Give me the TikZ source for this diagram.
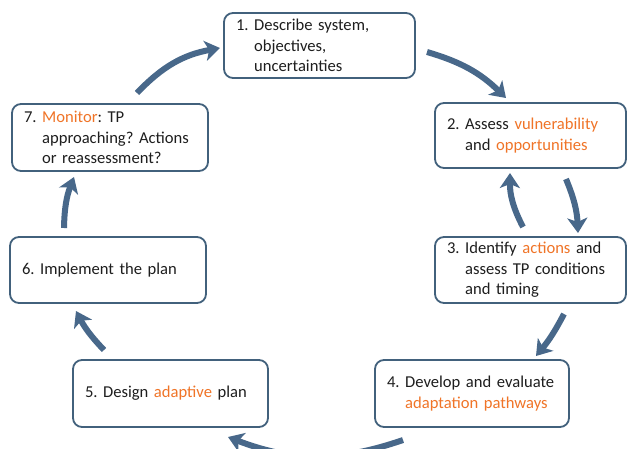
\documentclass[tikz,border=0pt]{standalone}
\usepackage{fontspec}
\setmainfont{Carlito}
\usetikzlibrary{arrows.meta}
\definecolor{frame}{HTML}{42617C}
\definecolor{flow}{HTML}{48688A}
\definecolor{accent}{HTML}{F07427}
\definecolor{ink}{HTML}{1E1E1E}
\newcommand{\hl}[1]{\textcolor{accent}{#1}}
\tikzset{
  stage/.style={draw=frame, line width=1.8pt, rounded corners=9pt, fill=white,
    align=left, inner xsep=12pt, inner ysep=0pt, text=ink,
    font=\fontsize{16.6}{20.5}\selectfont\frenchspacing},
  cycle/.style={draw=flow, line width=6pt,
    -{Stealth[length=15pt, width=20pt, inset=4pt]}},
}
\begin{document}
\begin{tikzpicture}[x=1pt, y=-1pt]
\useasboundingbox (0,0) rectangle (627,448);

% stages of the cycle
\node[stage, minimum width=191pt, minimum height=65pt, text width=167pt] (b1) at (319.5,45.5)
  {1. Describe system,\\\phantom{1. }objectives,\\\phantom{1. }uncertainties};
\node[stage, minimum width=191pt, minimum height=65pt, text width=167pt] (b2) at (530.5,135.5)
  {2. Assess \hl{vulnerability}\\\phantom{2. }and \hl{opportunities}};
\node[stage, minimum width=191pt, minimum height=66pt, text width=167pt] (b3) at (530.5,270)
  {3. Identify \hl{actions} and\\\phantom{3. }assess TP conditions\\\phantom{3. }and timing};
\node[stage, minimum width=194pt, minimum height=67pt, text width=170pt] (b4) at (472,393.5)
  {4. Develop and evaluate\\\phantom{4. }\hl{adaptation pathways}};
\node[stage, minimum width=195pt, minimum height=67pt, text width=171pt] (b5) at (170.5,393.5)
  {5. Design \hl{adaptive} plan};
\node[stage, minimum width=196pt, minimum height=66pt, text width=172pt] (b6) at (108,270)
  {6. Implement the plan};
\node[stage, minimum width=196pt, minimum height=67pt, text width=172pt, inner xsep=10pt] (b7) at (110,137.5)
  {7. \hl{Monitor}: TP\\\phantom{7. }approaching? Actions\\\phantom{7. }or reassessment?};

% arrow end points
\coordinate (s71) at (137,93);   \coordinate (e71) at (220,48);
\coordinate (s12) at (427,52);   \coordinate (e12) at (506,98);
\coordinate (s23) at (566,179);  \coordinate (e23) at (578,233);
\coordinate (s32) at (523,227);  \coordinate (e32) at (510,173);
\coordinate (s34) at (564,314);  \coordinate (e34) at (536,356);
\coordinate (s45) at (403,440);  \coordinate (e45) at (228,437);
\coordinate (s56) at (104,350);  \coordinate (e56) at (76,311);
\coordinate (s67) at (64,228);   \coordinate (e67) at (74,177);

% transitions
\draw[cycle] (s71) to[bend left=18] (e71);
\draw[cycle] (s12) to[bend left=14] (e12);
\draw[cycle] (s23) to[bend left=10] (e23);
\draw[cycle] (s32) to[bend left=14] (e32);
\draw[cycle] (s34) to[bend left=6] (e34);
\draw[cycle] (s45) to[bend left=20] (e45);
\draw[cycle] (s56) to[bend left=8] (e56);
\draw[cycle] (s67) to[bend left=10] (e67);
\end{tikzpicture}
\end{document}
